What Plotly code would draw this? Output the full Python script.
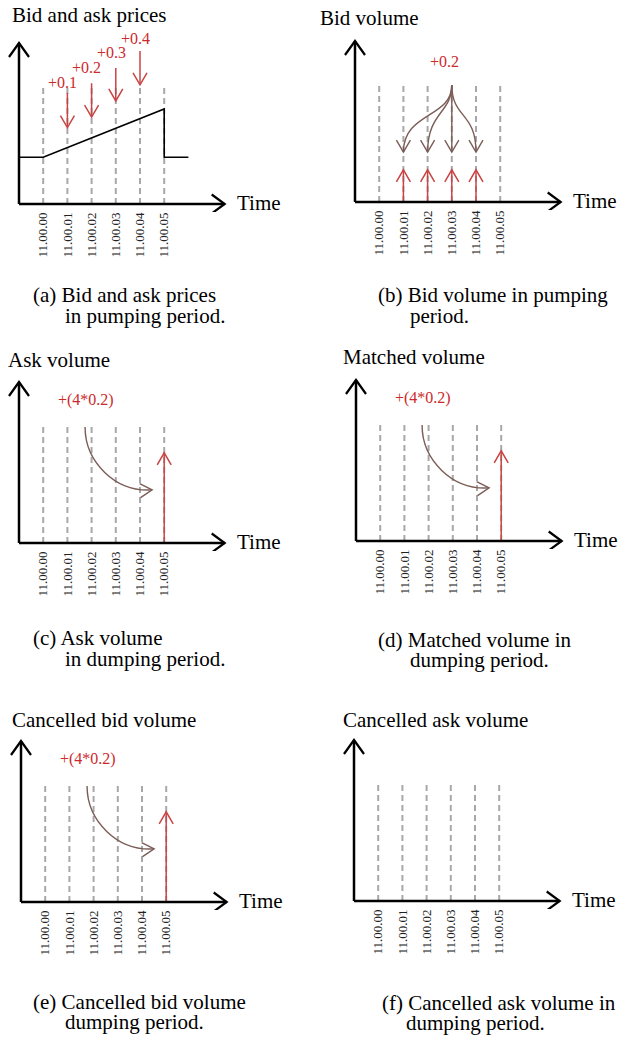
import math
import plotly.graph_objects as go

W, H = 620, 1039
SERIF = "Liberation Serif"

# ---------------- data ----------------
times = ["11.00.00", "11.00.01", "11.00.02", "11.00.03", "11.00.04", "11.00.05"]
t_idx = [0, 1, 2, 3, 4, 5]

titles = ["Bid and ask prices", "Bid volume", "Ask volume",
          "Matched volume", "Cancelled bid volume", "Cancelled ask volume"]
captions_l1 = ["(a) Bid and ask prices", "(b) Bid volume in pumping", "(c) Ask volume",
               "(d) Matched volume in", "(e) Cancelled bid volume", "(f) Cancelled ask volume in"]
captions_l2 = ["in pumping period.", "period.", "in dumping period.",
               "dumping period.", "dumping period.", "dumping period."]

# panel (a): price path and pumping orders
price_t = [-1, 0, 5, 5, 6]
price_v = [29, 29, 59, 29, 29]
pump_labels = ["+0.1", "+0.2", "+0.3", "+0.4"]
pump_t = [1, 2, 3, 4]
pump_from = [69, 75, 84.5, 95]
pump_to = [47.5, 54, 64, 74]
pump_label_t = [0.78, 1.8, 2.84, 3.8]
pump_label_v = [75.5, 85, 94, 103]

# panel (b): bid volume added and split of +0.2
bid_t = [1, 2, 3, 4]
bid_added = [20, 20, 20, 20]
split_label = "+0.2"
split_src_t, split_src_v = 3, 72.7
split_dst_t = [1, 2, 3, 4]
split_dst_v = [31, 31, 31, 31]
split_label_t, split_label_v = 2.7, 87

# panels (c),(d),(e): dumping of accumulated volume
dump_label = "+(4*0.2)"
dump_t = 5
dump_value = 56
dump_src_t, dump_src_v = 1.73, 72
dump_dst_t, dump_dst_v = 4.5, 33
dump_label_t, dump_label_v = 1.75, 89

dash_top = [72, 72, 72, 72, 72, 72]
dash_top_b = [72, 72, 72, 74, 72, 72]

# ---------------- geometry ----------------
origins = [(19, 204), (355, 202), (19, 543), (356, 541), (21, 902), (354, 901)]
title_pos = [(10, 15), (318, 18), (6, 360), (341, 357), (10, 720), (341, 720)]
cap_pos = [((31, 295), (63, 316)), ((376, 295), (408, 316)),
           ((31, 638), (63, 659)), ((376, 640), (408, 660)),
           ((31, 1002), (63, 1022)), ((380, 1003), (404, 1023))]
SX, SY = 24.2, 1.61
PADL, PADR, PADB, PADT = 14, 212, 8, 172

RED = "#c94444"
RED_TXT = "#cc2a2a"
BROWN = "#7b5d57"
GREY = "#a8a8a8"

fig = go.Figure()
shapes = []
annotations = []


def chevron(tip_t, tip_v, dir_t, dir_v, depth, half):
    dx, dy = dir_t * SX, dir_v * SY
    n = math.hypot(dx, dy)
    ux, uy = dx / n, dy / n
    nx, ny = -uy, ux
    tx, ty = tip_t * SX, tip_v * SY
    a1 = (tx - depth * ux + half * nx, ty - depth * uy + half * ny)
    a2 = (tx - depth * ux - half * nx, ty - depth * uy - half * ny)
    return [a1[0] / SX, tip_t, a2[0] / SX], [a1[1] / SY, tip_v, a2[1] / SY]


def line(xs, ys, ax, color, width, dash=None):
    fig.add_trace(go.Scatter(x=xs, y=ys, mode="lines", xaxis="x" + ax, yaxis="y" + ax,
                             line=dict(color=color, width=width, dash=dash),
                             hoverinfo="skip", showlegend=False))


def arrow(x0, y0, x1, y1, ax, color, width, depth=12, half=7):
    line([x0, x1], [y0, y1], ax, color, width)
    cx, cy = chevron(x1, y1, x1 - x0, y1 - y0, depth, half)
    line(cx, cy, ax, color, width)


def curve_arrow(p0, p1, p2, p3, ax, color, width, depth=12, half=7):
    shapes.append(dict(type="path", xref="x" + ax, yref="y" + ax,
                       path=f"M{p0[0]},{p0[1]} C{p1[0]},{p1[1]} {p2[0]},{p2[1]} {p3[0]},{p3[1]}",
                       line=dict(color=color, width=width)))
    cx, cy = chevron(p3[0], p3[1], p3[0] - p2[0], p3[1] - p2[1], depth, half)
    line(cx, cy, ax, color, width)


def px_to_paper(px, py):
    return px / W, 1 - py / H


layout_axes = {}
for i, (ox, oy) in enumerate(origins):
    k = "" if i == 0 else str(i + 1)
    ax = k
    xd = [(ox - PADL) / W, (ox + PADR) / W]
    yd = [1 - (oy + PADB) / H, 1 - (oy - PADT) / H]
    layout_axes["xaxis" + k] = dict(
        domain=xd, range=[-1 - PADL / SX, -1 + PADR / SX], anchor="free",
        position=1 - oy / H, tickmode="array", tickvals=t_idx, ticktext=times,
        tickangle=-90, tickfont=dict(family=SERIF, size=13, color="#222"),
        ticklabelstandoff=5,
        showgrid=False, zeroline=False, showline=False, ticks="", fixedrange=True)
    layout_axes["yaxis" + k] = dict(
        domain=yd, range=[-PADB / SY, PADT / SY], anchor="x" + k,
        visible=False, showgrid=False, zeroline=False, fixedrange=True)

    tops = dash_top if i < 2 else dash_top_b
    for t, top in zip(t_idx, tops):
        line([t, t], [0, top], ax, GREY, 2, dash="6px,4px")

    if i == 0:
        line(price_t, price_v, ax, "black", 1.6)
        for t, y0, y1 in zip(pump_t, pump_from, pump_to):
            arrow(t, y0, t, y1, ax, RED, 1.5)
        for lab, lt, lv in zip(pump_labels, pump_label_t, pump_label_v):
            annotations.append(dict(text=lab, x=lt, y=lv, xref="x" + ax, yref="y" + ax,
                                    showarrow=False, font=dict(family=SERIF, size=16, color=RED_TXT)))
    elif i == 1:
        for t, v in zip(bid_t, bid_added):
            arrow(t, 0, t, v, ax, RED, 1.5)
        for dt, dv in zip(split_dst_t, split_dst_v):
            if dt == split_src_t:
                arrow(split_src_t, split_src_v, dt, dv, ax, BROWN, 1.4)
            else:
                bend = 52 if dt != 2 else 55
                curve_arrow((split_src_t, split_src_v), (split_src_t, bend),
                            (dt, 56), (dt, dv), ax, BROWN, 1.4)
        annotations.append(dict(text=split_label, x=split_label_t, y=split_label_v,
                                xref="x" + ax, yref="y" + ax, showarrow=False,
                                font=dict(family=SERIF, size=16, color=RED_TXT)))
    elif i in (2, 3, 4):
        arrow(dump_t, 0, dump_t, dump_value, ax, RED, 1.5)
        kap = 0.5523
        curve_arrow((dump_src_t, dump_src_v),
                    (dump_src_t, dump_src_v - kap * (dump_src_v - dump_dst_v)),
                    (dump_dst_t - kap * (dump_dst_t - dump_src_t), dump_dst_v - 1.5),
                    (dump_dst_t, dump_dst_v), ax, BROWN, 1.4)
        annotations.append(dict(text=dump_label, x=dump_label_t, y=dump_label_v,
                                xref="x" + ax, yref="y" + ax, showarrow=False,
                                font=dict(family=SERIF, size=16, color=RED_TXT)))

    # axes with arrow heads
    line([-1, 7.5], [0, 0], ax, "black", 2.5)
    line([-1, -1], [0, 100], ax, "black", 2.5)
    cx, cy = chevron(7.5, 0, 1, 0, 13, 9.5)
    line(cx, cy, ax, "black", 2.2)
    cx, cy = chevron(-1, 100, 0, 1, 14, 10)
    line(cx, cy, ax, "black", 2.2)

    # texts
    tx, ty = px_to_paper(ox + 216, oy - 1)
    annotations.append(dict(text="Time", x=tx, y=ty, xref="paper", yref="paper",
                            xanchor="left", yanchor="middle", showarrow=False,
                            font=dict(family=SERIF, size=21, color="black")))
    tx, ty = px_to_paper(*title_pos[i])
    annotations.append(dict(text=titles[i], x=tx, y=ty, xref="paper", yref="paper",
                            xanchor="left", yanchor="middle", showarrow=False,
                            font=dict(family=SERIF, size=21, color="black")))
    for txt, pos in zip((captions_l1[i], captions_l2[i]), cap_pos[i]):
        tx, ty = px_to_paper(*pos)
        annotations.append(dict(text=txt, x=tx, y=ty, xref="paper", yref="paper",
                                xanchor="left", yanchor="middle", showarrow=False,
                                font=dict(family=SERIF, size=21, color="black")))

fig.update_layout(width=W, height=H, margin=dict(l=0, r=0, t=0, b=0),
                  paper_bgcolor="white", plot_bgcolor="rgba(0,0,0,0)",
                  shapes=shapes, annotations=annotations, showlegend=False,
                  **layout_axes)
fig.write_html("out.html", config={"displayModeBar": False},
               post_script="document.body.style.margin='0';")
